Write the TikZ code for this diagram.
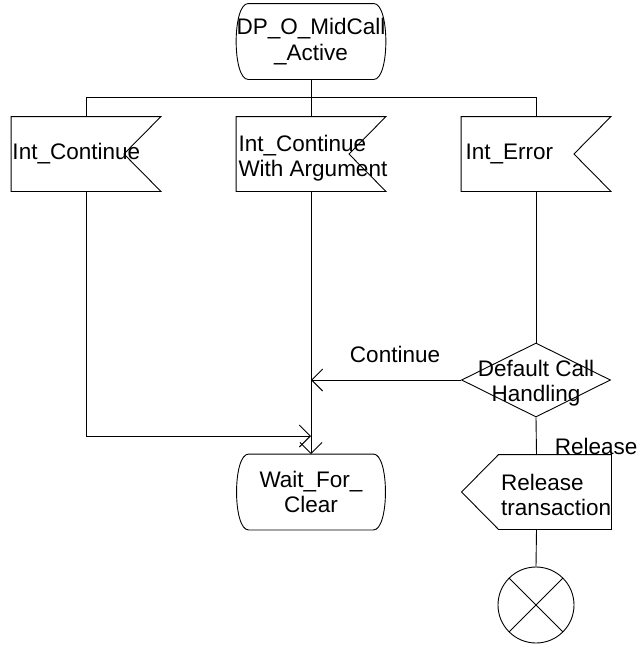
\documentclass[tikz,border=0pt]{standalone}
\usepackage{fontspec}
\setmainfont{Liberation Sans}
\usetikzlibrary{arrows.meta, positioning, shapes.geometric}

% outline of an SDL state: flat top and bottom, bulging sides
\newcommand\stateoutline[1]{%
  \draw ([xshift=12pt]#1.north west) -- ([xshift=-12pt]#1.north east)
    .. controls ([xshift=4pt]#1.north east) and ([xshift=4pt]#1.south east)
    .. ([xshift=-12pt]#1.south east) -- ([xshift=12pt]#1.south west)
    .. controls ([xshift=-4pt]#1.south west) and ([xshift=-4pt]#1.north west)
    .. cycle;}
% input signal: notch on the right
\newcommand\insigoutline[1]{%
  \draw (#1.north west) -- (#1.north east) -- ([xshift=-37pt]#1.east)
    -- (#1.south east) -- (#1.south west) -- cycle;}
% output signal: point on the left
\newcommand\outsigoutline[1]{%
  \draw ([xshift=37pt]#1.north west) -- (#1.north east) -- (#1.south east)
    -- ([xshift=37pt]#1.south west) -- (#1.west) -- cycle;}

\begin{document}
\begin{tikzpicture}[
    x=1pt, y=-1pt,
    line width=0.9pt,
    >={Straight Barb[length=11pt, width=22pt]},
    every node/.style={font=\fontsize{22.5}{25.5}\selectfont},
    statebox/.style={minimum width=148pt, minimum height=75pt,
                     inner sep=0pt, align=center},
    sigbox/.style={minimum width=149pt, minimum height=74pt, inner sep=0pt},
    decision/.style={draw, diamond, minimum width=149pt,
                     minimum height=74pt, inner sep=0pt},
    stopsym/.style={draw, circle, minimum size=76pt, inner sep=0pt,
      path picture={
        \draw (path picture bounding box.north west) -- (path picture bounding box.south east)
              (path picture bounding box.north east) -- (path picture bounding box.south west);}},
    txt/.style={inner sep=0pt, align=left}
  ]
  \useasboundingbox (0,0) rectangle (638,645);

  % states
  \node[statebox] (mid) at (311,41.5) {DP\_O\_MidCall\\\_Active};
  \stateoutline{mid}
  \node[statebox] (wfc) at (311,492) {Wait\_For\_\\Clear};
  \stateoutline{wfc}

  % input signals
  \node[sigbox] (icont) at (86,154) {};
  \node[sigbox] (icwa) at (311,154) {};
  \node[sigbox] (ierr) at (536,154) {};
  \insigoutline{icont}
  \insigoutline{icwa}
  \insigoutline{ierr}
  \node[txt, anchor=west] (icontlbl) at ([xshift=1pt]icont.west) {Int\_Continue};
  \node[txt, anchor=west] (icwalbl) at ([xshift=2pt, yshift=-4pt]icwa.west)
    {Int\_Continue\\With Argument};
  \node[txt, anchor=west] (ierrlbl) at ([xshift=4pt]ierr.west) {Int\_Error};

  % decision, output and stop
  \node[decision] (dch) at (536,380) {};
  \node[txt, align=center] (dchlbl) at ([yshift=-3pt]dch.center) {Default Call\\Handling};
  \node[sigbox] (rtx) at (536.5,492) {};
  \outsigoutline{rtx}
  \node[txt, anchor=west] (rtxlbl) at ([xshift=39pt, yshift=-3pt]rtx.west)
    {Release\\transaction};
  \node[stopsym] (stop) at (536,605) {};

  \coordinate (join) at (311,436);

  % connections
  \draw (mid.south) -- (icwa.north);
  \draw (icont.north) -- ++(0,-19) -| (ierr.north);
  \draw[->] (icont.south) |- (join);
  \draw[->] (icwa.south) -- (wfc.north);
  \draw (ierr.south) -- (dch.north);
  \draw[->] (dch.west) -- node[pos=0.44, above=17pt, inner sep=0pt] {Continue}
    (dch.west -| wfc.north);
  \draw (dch.south) -- node[pos=1, anchor=base west, xshift=18pt, inner sep=0pt] {Release}
    (rtx.north);
  \draw (rtx.south) -- (stop.north);
\end{tikzpicture}
\end{document}
